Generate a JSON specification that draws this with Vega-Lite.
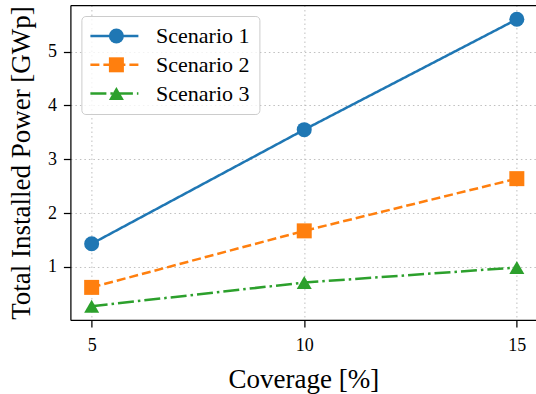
{
  "$schema": "https://vega.github.io/schema/vega-lite/v6.json",
  "width": 466,
  "height": 315,
  "autosize": {"type": "none"},
  "padding": {"left": 70.4, "top": 5, "right": 0, "bottom": 74},
  "background": "white",
  "data": {"values": [
    {"series": "Scenario 1", "coverage": 5, "power": 1.43},
    {"series": "Scenario 1", "coverage": 10, "power": 3.55},
    {"series": "Scenario 1", "coverage": 15, "power": 5.6},
    {"series": "Scenario 2", "coverage": 5, "power": 0.62},
    {"series": "Scenario 2", "coverage": 10, "power": 1.67},
    {"series": "Scenario 2", "coverage": 15, "power": 2.64},
    {"series": "Scenario 3", "coverage": 5, "power": 0.27},
    {"series": "Scenario 3", "coverage": 10, "power": 0.71},
    {"series": "Scenario 3", "coverage": 15, "power": 0.99}
  ]},
  "config": {
    "font": "Liberation Serif",
    "view": {"stroke": null},
    "axis": {
      "labelFont": "Liberation Serif",
      "titleFont": "Liberation Serif",
      "labelFontSize": 18,
      "titleFontSize": 27,
      "titleFontWeight": "normal",
      "labelColor": "black",
      "titleColor": "black",
      "tickColor": "black",
      "tickSize": 7,
      "tickWidth": 1.25,
      "domainColor": "black",
      "domainWidth": 1.25,
      "gridColor": "#b8b8b8",
      "gridDash": [1.5, 3],
      "gridWidth": 0.9
    },
    "legend": {
      "labelFont": "Liberation Serif",
      "labelFontSize": 22,
      "labelColor": "black",
      "rowPadding": 6.8,
      "padding": 9
    }
  },
  "resolve": {"axis": {"x": "independent"}},
  "layer": [
    {
      "mark": {"type": "line", "strokeWidth": 2.5},
      "encoding": {
        "x": {"field": "coverage", "type": "quantitative", "scale": {"domain": [4.5, 15.46], "nice": false, "zero": false},
          "axis": {"values": [5, 10, 15], "format": "d", "title": "Coverage [%]", "labelFont": "Liberation Serif", "labelPadding": 10, "titlePadding": 12, "grid": true, "domain": true}},
        "y": {"field": "power", "type": "quantitative", "scale": {"domain": [0.014, 5.866], "nice": false, "zero": false},
          "axis": {"values": [1, 2, 3, 4, 5], "format": "d", "title": "Total Installed Power [GWp]", "labelFont": "Liberation Serif", "labelPadding": 7, "titlePadding": 12, "grid": true, "domain": true}},
        "color": {"field": "series", "type": "nominal",
          "scale": {"domain": ["Scenario 1", "Scenario 2", "Scenario 3"], "range": ["#1f77b4", "#ff7f0e", "#2ca02c"]},
          "legend": {"title": null, "orient": "top-left", "offset": 11, "symbolType": "M-3,0H3", "symbolSize": 256, "symbolStrokeWidth": 2.5, "symbolOffset": 13, "labelOffset": 30.7, "rowPadding": 6.8, "padding": 9, "labelFontSize": 22, "labelFont": "Liberation Serif", "labelColor": "black", "strokeColor": "#cccccc", "fillColor": "rgba(255,255,255,0.8)", "cornerRadius": 4}},
        "strokeDash": {"field": "series", "type": "nominal",
          "scale": {"domain": ["Scenario 1", "Scenario 2", "Scenario 3"], "range": [[1, 0], [9, 4], [16, 4, 2.5, 4]]},
          "legend": {"title": null, "orient": "top-left", "offset": 11, "symbolType": "M-3,0H3", "symbolSize": 256, "symbolStrokeWidth": 2.5, "symbolOffset": 13, "labelOffset": 30.7, "rowPadding": 6.8, "padding": 9, "labelFontSize": 22, "labelFont": "Liberation Serif", "labelColor": "black", "strokeColor": "#cccccc", "fillColor": "rgba(255,255,255,0.8)", "cornerRadius": 4}}
      }
    },
    {
      "mark": {"type": "point", "filled": true, "opacity": 1, "strokeWidth": 0, "size": 225},
      "encoding": {
        "x": {"field": "coverage", "type": "quantitative", "scale": {"domain": [4.5, 15.46], "nice": false, "zero": false},
          "axis": {"orient": "top", "labels": false, "ticks": false, "grid": false, "title": null, "domain": true}},
        "y": {"field": "power", "type": "quantitative"},
        "fill": {"field": "series", "type": "nominal",
          "scale": {"domain": ["Scenario 1", "Scenario 2", "Scenario 3"], "range": ["#1f77b4", "#ff7f0e", "#2ca02c"]},
          "legend": {"title": null, "orient": "none", "legendX": 11, "legendY": 11, "symbolSize": 225, "symbolStrokeWidth": 0, "symbolOffset": 15, "symbolOpacity": 0, "labelOffset": 30.7, "labelOpacity": 0, "labelExpr": "' '", "rowPadding": 6.8, "padding": 9, "labelFontSize": 22, "labelFont": "Liberation Serif", "strokeColor": "transparent", "fillColor": "transparent"}},
        "shape": {"field": "series", "type": "nominal",
          "scale": {"domain": ["Scenario 1", "Scenario 2", "Scenario 3"], "range": ["circle", "square", "triangle-up"]},
          "legend": {"title": null, "orient": "none", "legendX": 11, "legendY": 11, "symbolSize": 225, "symbolStrokeWidth": 0, "symbolOffset": 15, "symbolOpacity": 1, "labelOffset": 30.7, "labelOpacity": 0, "labelExpr": "' '", "rowPadding": 6.8, "padding": 9, "labelFontSize": 22, "labelFont": "Liberation Serif", "strokeColor": "transparent", "fillColor": "transparent"}}
      }
    }
  ]
}
